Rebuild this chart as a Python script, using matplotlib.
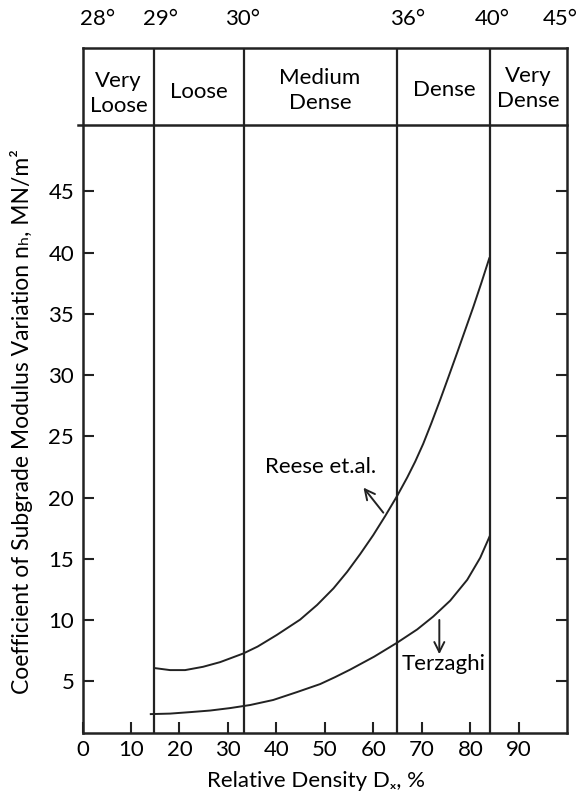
import numpy as np
import matplotlib.pyplot as plt

# curves (relative density %, n_h MN/m^3)
reese_x = [14.96, 18.06, 21.16, 24.87, 28.38, 33.19, 36.12, 40.08, 44.89, 48.40, 51.77, 54.59,
           57.28, 59.96, 62.43, 64.91, 66.98, 68.63, 70.28, 71.93, 73.79, 75.44, 77.30, 78.95,
           80.60, 82.25, 83.9]
reese_y = [6.09, 5.93, 5.93, 6.20, 6.58, 7.29, 7.85, 8.80, 10.05, 11.25, 12.60, 13.95,
           15.40, 16.94, 18.50, 20.15, 21.65, 22.95, 24.40, 26.05, 28.00, 29.80, 31.85, 33.70,
           35.55, 37.50, 39.53]
terz_x = [14.08, 18.06, 22.19, 26.32, 30.44, 34.57, 39.32, 44.27, 49.02, 52.12, 55.21, 60.17,
          64.91, 69.04, 72.34, 75.85, 79.36, 82.04, 84.0]
terz_y = [2.34, 2.38, 2.50, 2.63, 2.83, 3.08, 3.49, 4.14, 4.79, 5.36, 5.97, 7.03,
          8.17, 9.25, 10.30, 11.60, 13.30, 15.10, 16.86]

boundaries = [14.7, 33.3, 64.9, 84.1]
classes = ["Very\nLoose", "Loose", "Medium\nDense", "Dense", "Very\nDense"]
class_x = [7.4, 24.0, 49.0, 74.6, 92.0]
class_y = [53.0, 53.1, 53.2, 53.3, 53.4]
angles = ["28°", "29°", "30°", "36°", "40°", "45°"]
angle_x = [3.0, 16.0, 33.0, 67.0, 84.5, 98.5]

xticks = list(range(0, 100, 10))
yticks = list(range(5, 50, 5))

plt.rcParams['font.family'] = ['Lato', 'DejaVu Sans']
plt.rcParams['font.size'] = 16

fig = plt.figure(figsize=(5.84, 7.98), dpi=100)
ax = fig.add_axes([0.1413, 0.0815, 0.8301, 0.8584])

ink = '#222222'
ax.set_xlim(0, 100)
ax.set_ylim(0.8, 56.7)
for s in ax.spines.values():
    s.set_linewidth(1.8)
    s.set_color(ink)

for b in boundaries:
    ax.axvline(b, color=ink, lw=1.6)
ax.plot([-1.0, 100], [50.4, 50.4], color=ink, lw=1.8, clip_on=False)

ax.plot(reese_x, reese_y, color=ink, lw=1.4)
ax.plot(terz_x, terz_y, color=ink, lw=1.4)

ax.annotate("", xy=(57.6, 21.0), xytext=(62.4, 18.6),
            arrowprops=dict(arrowstyle='->', color=ink, lw=1.4, mutation_scale=18))
ax.annotate("", xy=(73.6, 7.0), xytext=(73.6, 10.25),
            arrowprops=dict(arrowstyle='->', color=ink, lw=1.4, mutation_scale=18))
ax.text(37.7, 22.5, "Reese et.al.", ha='left', va='center')
ax.text(65.9, 6.4, "Terzaghi", ha='left', va='center')

for lab, x, y in zip(classes, class_x, class_y):
    ax.text(x, y, lab, ha='center', va='center', linespacing=1.3)
for lab, x in zip(angles, angle_x):
    ax.text(x, 59.1, lab, ha='center', va='center', clip_on=False)

ax.set_xticks(xticks)
ax.set_yticks(yticks)
ax.tick_params(direction='in', length=8, width=1.5, color=ink, right=True, labelsize=16)
ax.tick_params(axis='y', pad=6)
ax.tick_params(axis='x', pad=5)

ax.set_xlabel("Relative Density Dₓ, %")
ax.xaxis.set_label_coords(0.481, -0.056)
ax.set_ylabel("Coefficient of Subgrade Modulus Variation nₕ, MN/m²", fontsize=16.5)
ax.yaxis.set_label_coords(-0.102, 0.454)

plt.savefig("out.png", dpi=100)
